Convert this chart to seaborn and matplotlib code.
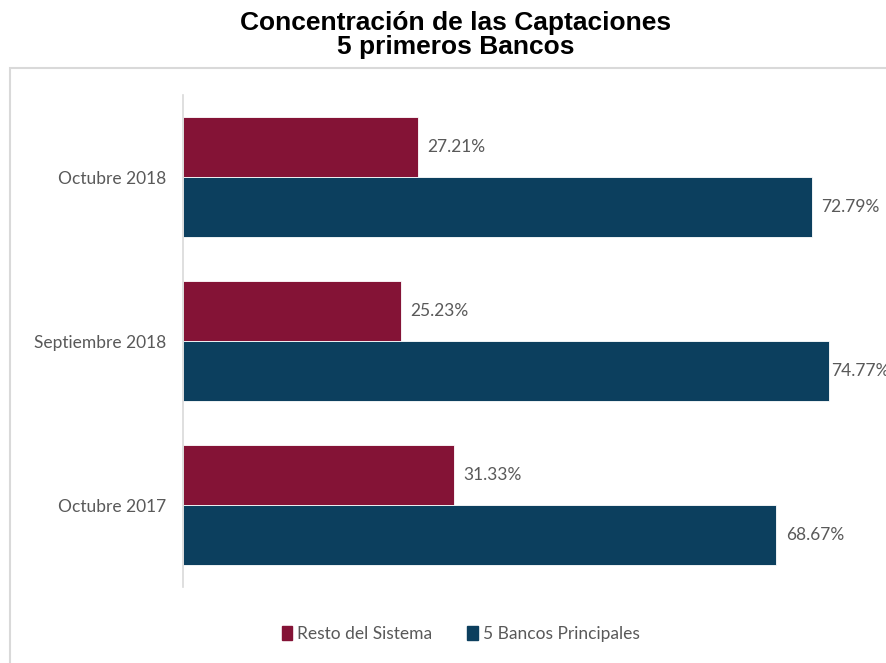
import pandas as pd
import matplotlib.pyplot as plt
import seaborn as sns
from matplotlib.patches import Rectangle

# Datos
periodos = ["Octubre 2018", "Septiembre 2018", "Octubre 2017"]
resto_sistema = [27.21, 25.23, 31.33]
bancos_principales = [72.79, 74.77, 68.67]
series = ["Resto del Sistema", "5 Bancos Principales"]
colores = ["#841336", "#0C3F5E"]

df = pd.DataFrame({
    "Periodo": periodos * 2,
    "Serie": [series[0]] * 3 + [series[1]] * 3,
    "Valor": resto_sistema + bancos_principales,
})

sns.set_style("white")
plt.rcParams["font.family"] = ["Lato", "DejaVu Sans"]

fig = plt.figure(figsize=(8.86, 6.63), dpi=100)

# marco gris del area del grafico
fig.patches.append(Rectangle((10 / 886, -0.1), 1.0, (663 - 68) / 663 + 0.1,
                             transform=fig.transFigure, fill=False,
                             edgecolor="#D9D9D9", linewidth=1.5))

ax = fig.add_axes([183 / 886, 76 / 663, 703 / 886, 492 / 663])
sns.barplot(data=df, y="Periodo", x="Valor", hue="Serie", order=periodos,
            hue_order=series, palette=colores, saturation=1, orient="h",
            width=0.727, edgecolor="white", linewidth=0.6, legend=False, ax=ax)

xmax = 81.4
for cont in ax.containers:
    etiquetas = ax.bar_label(cont, fmt="%.2f%%", padding=7, color="#595959",
                             fontsize=12.5)
    # la etiqueta más larga se pega a la barra para que quepa
    for barra, et in zip(cont, etiquetas):
        if barra.get_width() > xmax - 7:
            et.xyann = (1.5, 0)

ax.set_xlim(0, xmax)
ax.set_ylim(2.5, -0.5)
ax.set_xlabel("")
ax.set_ylabel("")
ax.set_xticks([])
ax.tick_params(axis="y", length=0, pad=12, labelsize=12.5, labelcolor="#595959")
for s in ["top", "right", "bottom"]:
    ax.spines[s].set_visible(False)
ax.spines["left"].set_color("#D9D9D9")
ax.spines["left"].set_linewidth(1.2)

fig.text(0.514, 0.947, "Concentración de las Captaciones\n5 primeros Bancos",
         ha="center", va="center", fontsize=19, fontweight="bold", color="black",
         family=["Liberation Sans", "DejaVu Sans"], linespacing=1.0)

handles = [Rectangle((0, 0), 1, 1, color=c) for c in colores]
fig.legend(handles, series, loc="center", bbox_to_anchor=(0.52, 0.044), ncol=2,
           frameon=False, handlelength=0.6, handleheight=0.9, handletextpad=0.3,
           columnspacing=2.0, fontsize=12.5, labelcolor="#595959")

fig.savefig("out.png", dpi=100)
